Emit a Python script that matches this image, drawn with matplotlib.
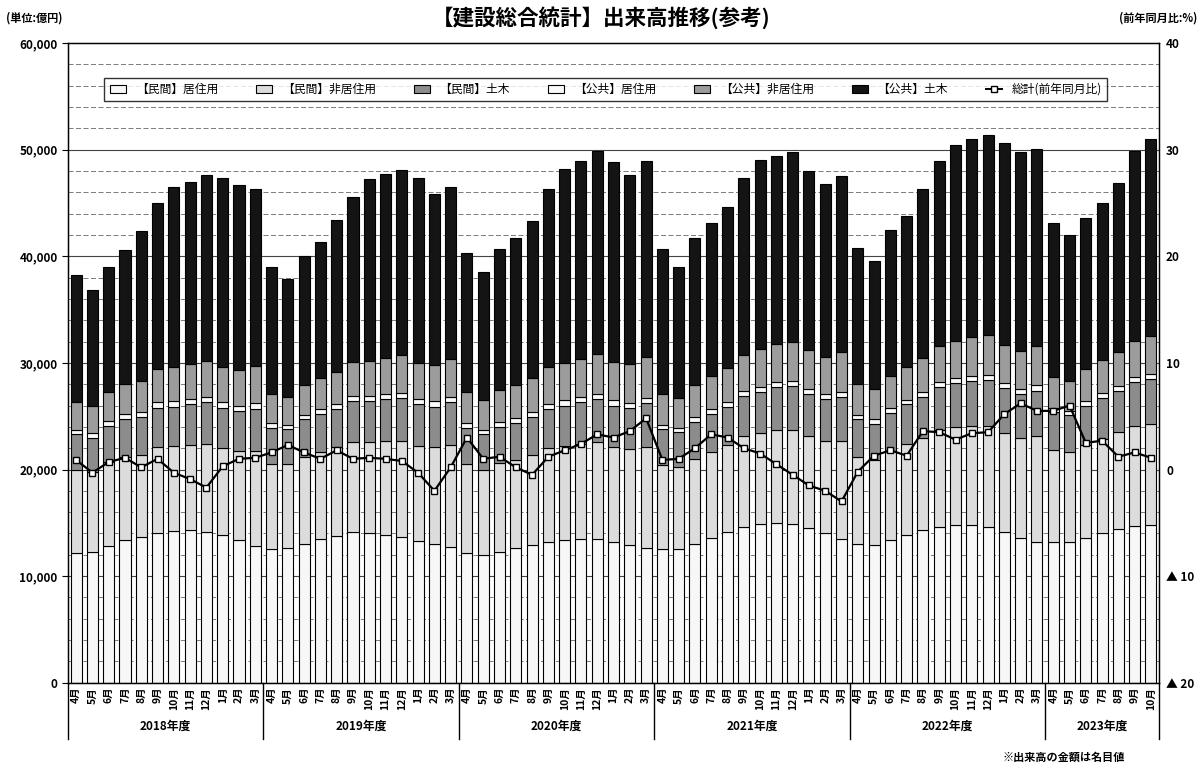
import matplotlib.pyplot as plt
import matplotlib.transforms as mtransforms
from matplotlib.lines import Line2D
import numpy as np

plt.rcParams['font.family'] = ['Noto Sans CJK JP', 'DejaVu Sans']

# fiscal years and months (Apr 2018 - Oct 2023)
years = ['2018年度', '2019年度', '2020年度', '2021年度', '2022年度', '2023年度']
months_full = ['4月', '5月', '6月', '7月', '8月', '9月', '10月', '11月', '12月', '1月', '2月', '3月']
month_labels = months_full * 5 + months_full[:7]

# values in 億円
pr_res = [12200, 12300, 12800, 13400, 13700, 14000, 14200, 14300, 14100, 13900, 13400, 12800,
          12500, 12600, 13000, 13500, 13800, 14100, 14000, 13900, 13700, 13300, 13000, 12700,
          12200, 12000, 12300, 12600, 12900, 13200, 13400, 13500, 13500, 13200, 12900, 12600,
          12500, 12500, 13000, 13600, 14100, 14600, 14900, 15000, 14900, 14500, 14000, 13500,
          13000, 12900, 13400, 13900, 14300, 14600, 14800, 14800, 14600, 14100, 13600, 13200,
          13200, 13200, 13600, 14000, 14400, 14700, 14800]
pr_nonres = [7800, 7500, 7900, 7800, 7700, 8100, 8000, 8000, 8300, 8100, 8300, 8900,
             8000, 7900, 8200, 8100, 8300, 8500, 8600, 8800, 9000, 8900, 9100, 9600,
             8300, 8000, 8300, 8300, 8500, 8800, 8800, 8900, 9100, 8900, 9000, 9500,
             7900, 7700, 8000, 8000, 8200, 8500, 8500, 8700, 8800, 8600, 8700, 9200,
             8200, 8000, 8300, 8500, 8700, 9100, 9200, 9300, 9500, 9300, 9400, 9900,
             8600, 8400, 8700, 8900, 9100, 9400, 9500]
pr_civil = [3300, 3200, 3400, 3500, 3500, 3700, 3700, 3800, 3900, 3800, 3800, 4000,
            3400, 3300, 3500, 3600, 3600, 3800, 3800, 3900, 4000, 3900, 3800, 4000,
            3400, 3300, 3400, 3500, 3500, 3700, 3800, 3900, 4000, 3900, 3900, 4100,
            3400, 3300, 3500, 3600, 3600, 3800, 3900, 4000, 4100, 4000, 3900, 4100,
            3500, 3400, 3600, 3700, 3800, 4000, 4100, 4200, 4300, 4200, 4100, 4300,
            3600, 3500, 3700, 3800, 3900, 4100, 4200]
pub_res = [450, 430, 460, 480, 480, 500, 500, 510, 520, 500, 490, 520,
           440, 420, 450, 470, 470, 490, 490, 500, 510, 490, 480, 510,
           430, 420, 450, 460, 470, 480, 490, 500, 510, 490, 480, 510,
           420, 410, 440, 450, 460, 480, 480, 490, 500, 480, 470, 500,
           420, 410, 430, 450, 460, 470, 480, 490, 500, 480, 470, 490,
           410, 400, 430, 440, 450, 470, 480]
pub_nonres = [2600, 2500, 2700, 2800, 2900, 3100, 3200, 3300, 3400, 3300, 3300, 3500,
              2700, 2600, 2800, 2900, 3000, 3200, 3300, 3400, 3500, 3400, 3400, 3600,
              2900, 2800, 3000, 3100, 3200, 3400, 3500, 3600, 3700, 3600, 3600, 3800,
              2900, 2800, 3000, 3100, 3200, 3400, 3500, 3600, 3700, 3600, 3500, 3700,
              2900, 2800, 3000, 3100, 3200, 3400, 3500, 3600, 3700, 3600, 3500, 3700,
              2900, 2800, 3000, 3100, 3200, 3400, 3500]
pub_civil = [11850, 10870, 11740, 12620, 14120, 15600, 16900, 17090, 17380, 17700, 17410, 16580,
             11960, 11080, 12050, 12730, 14230, 15510, 17010, 17200, 17390, 17310, 16020, 16090,
             13070, 11980, 13250, 13740, 14730, 16720, 18210, 18500, 19090, 18710, 17720, 18390,
             13580, 12290, 13760, 14350, 15040, 16520, 17720, 17610, 17800, 16820, 16230, 16500,
             12780, 12090, 13770, 14150, 15840, 17330, 18320, 18610, 18800, 18920, 18730, 18510,
             14390, 13700, 14170, 14760, 15850, 17830, 18520]
# total, year-on-year change (%)
yoy = [0.9, -0.3, 0.7, 1.1, 0.2, 1.0, -0.3, -0.9, -1.7, 0.3, 1.0, 1.1,
       1.6, 2.3, 1.6, 1.0, 1.8, 1.0, 1.1, 1.0, 0.8, -0.3, -2.0, 0.2,
       3.0, 1.0, 1.2, 0.2, -0.5, 1.2, 1.8, 2.4, 3.3, 3.0, 3.6, 4.8,
       0.9, 1.0, 2.0, 3.3, 3.0, 2.0, 1.5, 0.5, -0.5, -1.5, -2.0, -3.0,
       -0.2, 1.3, 1.8, 1.3, 3.6, 3.5, 2.8, 3.4, 3.5, 5.2, 6.2, 5.5,
       5.5, 6.0, 2.5, 2.7, 1.2, 1.6, 1.1]

series = [
    ('【民間】居住用', pr_res, '#f7f7f7'),
    ('【民間】非居住用', pr_nonres, '#dcdcdc'),
    ('【民間】土木', pr_civil, '#8c8c8c'),
    ('【公共】居住用', pub_res, '#fafafa'),
    ('【公共】非居住用', pub_nonres, '#9c9c9c'),
    ('【公共】土木', pub_civil, '#141414'),
]

fig = plt.figure(figsize=(12.03, 7.68), dpi=100)
ax = fig.add_axes([0.0565, 0.111, 0.907, 0.833])

x = np.arange(len(month_labels))
bottom = np.zeros(len(x))

# gridlines
for v in range(2000, 60000, 2000):
    if v % 10000 == 0:
        ax.axhline(v, color='#444444', lw=0.8, zorder=0)
    else:
        ax.axhline(v, color='#666666', lw=0.6, ls=(0, (6, 3)), zorder=0)

for name, vals, col in series:
    ax.bar(x, vals, 0.68, bottom=bottom, color=col, edgecolor='black',
           linewidth=0.8, label=name, zorder=2)
    bottom += np.array(vals)

ax.set_xlim(-0.5, len(x) - 0.5)
ax.set_ylim(0, 60000)
ax.set_yticks(range(0, 60001, 10000))
ax.set_yticklabels([f'{v:,}' for v in range(0, 60001, 10000)], fontsize=8.5, fontweight='bold')
ax.set_xticks(x)
ax.set_xticklabels(month_labels, rotation=90, fontsize=7.5, fontweight='bold')
ax.tick_params(axis='x', length=0, pad=3)
ax.tick_params(axis='y', length=4, direction='out')
for s in ax.spines.values():
    s.set_linewidth(1.0)

# right axis for YoY
ax2 = ax.twinx()
ax2.plot(x, yoy, color='black', lw=1.6, marker='s', ms=4.5, mfc='white',
         mec='black', mew=1.0, zorder=5)
ax2.set_ylim(-20, 40)
ax2.set_yticks(range(-20, 41, 10))
ax2.set_yticklabels(['▲ 20', '▲ 10', '0', '10', '20', '30', '40'], fontsize=8.5, fontweight='bold')
ax2.tick_params(axis='y', length=0, pad=5)

# fiscal-year separators and labels
trans = mtransforms.blended_transform_factory(ax.transData, ax.transAxes)
bounds = [-0.5, 11.5, 23.5, 35.5, 47.5, 59.5, 66.5]
for b in bounds:
    ax.plot([b, b], [0, -0.088], color='black', lw=1.0, transform=trans, clip_on=False)
for i, yname in enumerate(years):
    ax.text((bounds[i] + bounds[i + 1]) / 2, -0.068, yname, transform=trans,
            ha='center', va='center', fontsize=8.5, fontweight='bold')

# legend
handles, labels = ax.get_legend_handles_labels()
handles.append(Line2D([], [], color='black', lw=1.4, marker='s', ms=5, mfc='white', mec='black'))
labels.append('総計(前年同月比)')
leg = ax.legend(handles, labels, ncol=7, loc='upper center', bbox_to_anchor=(0.493, 0.955),
                fontsize=8.5, frameon=True, fancybox=False, edgecolor='black',
                handlelength=1.4, handleheight=0.6, columnspacing=3.2, borderpad=0.45)
leg.get_frame().set_linewidth(1.0)
leg.set_zorder(10)

fig.text(0.5, 0.977, '【建設総合統計】出来高推移(参考)', ha='center', va='center',
         fontsize=15.5, fontweight='bold')
fig.text(0.005, 0.977, '(単位:億円)', ha='left', va='center', fontsize=8, fontweight='bold')
fig.text(0.995, 0.977, '(前年同月比:%)', ha='right', va='center', fontsize=8, fontweight='bold')
fig.text(0.935, 0.014, '※出来高の金額は名目値', ha='right', va='center', fontsize=8, fontweight='bold')

fig.savefig('out.png', dpi=100)
